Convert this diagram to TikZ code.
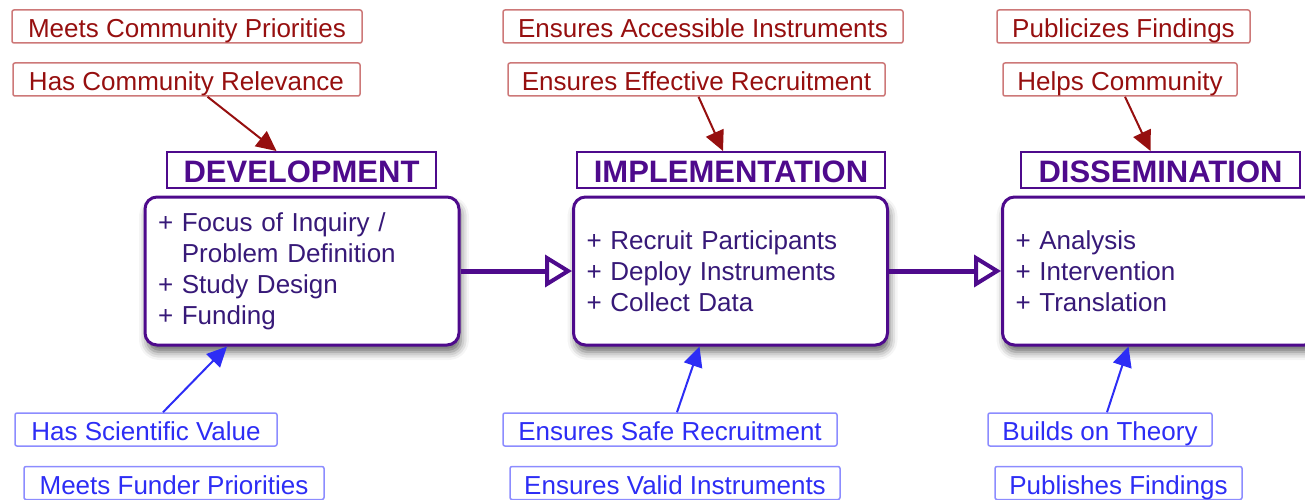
\documentclass[tikz,border=0pt]{standalone}
\usepackage{fontspec}
\setmainfont{Liberation Sans}
\usetikzlibrary{arrows.meta,shadows,shadows.blur}
\definecolor{commred}{RGB}{150,15,15}
\definecolor{commredline}{RGB}{205,120,120}
\definecolor{sciblue}{RGB}{45,45,245}
\definecolor{sciblueline}{RGB}{140,140,255}
\definecolor{phasepurple}{RGB}{78,10,140}
\definecolor{phasetext}{RGB}{55,25,120}

\tikzset{
  commbox/.style={draw=commredline, line width=1.5pt, rounded corners=2pt, text=commred,
    font=\fontsize{26}{30}\selectfont, minimum height=33pt, inner sep=0pt,
    text height=22pt, text depth=0pt},
  scibox/.style={draw=sciblueline, line width=1.5pt, rounded corners=2pt, text=sciblue,
    font=\fontsize{26}{30}\selectfont, minimum height=33pt, inner sep=0pt,
    text height=22pt, text depth=0pt},
  phasetitle/.style={draw=phasepurple, line width=2pt, text=phasepurple,
    font=\fontsize{31}{36}\selectfont\bfseries, minimum height=36pt, inner sep=0pt,
    text height=24pt, text depth=0pt},
  phasebox/.style={draw=phasepurple, line width=3pt, rounded corners=12pt, fill=white,
    blur shadow={shadow xshift=2pt, shadow yshift=-7pt, shadow blur radius=8pt, shadow opacity=60},
    text=phasetext, font=\fontsize{26}{31}\selectfont, align=left,
    text width=288pt, inner xsep=13pt, minimum height=148pt},
  flow/.style={phasepurple, line width=5pt, -{Triangle[open, length=27pt, width=32pt, line width=4pt]}},
  commarrow/.style={commred, line width=2pt, -{Triangle[length=20pt, width=19pt]}},
  sciarrow/.style={sciblue, line width=2pt, -{Triangle[length=20pt, width=19pt]}}
}

\begin{document}
\begin{tikzpicture}[x=1pt, y=-1pt]
  \useasboundingbox (0,0) rectangle (1305,500);
  \clip (0,0) rectangle (1305,500);

  % community side (top)
  \node [commbox, minimum width=350] (mcp) at (187,26.5) {Meets Community Priorities};
  \node [commbox, minimum width=347] (hcr) at (186.5,79.5) {Has Community Relevance};
  \node [commbox, minimum width=400] (eai) at (703,26.5) {Ensures Accessible Instruments};
  \node [commbox, minimum width=377] (eer) at (696.5,79.5) {Ensures Effective Recruitment};
  \node [commbox, minimum width=253] (pbf) at (1123.5,26.5) {Publicizes Findings};
  \node [commbox, minimum width=234] (hc) at (1120,79.5) {Helps Community};

  % phases
  \node [phasetitle, minimum width=269] (devt) at (301.5,170) {DEVELOPMENT};
  \node [phasetitle, minimum width=308] (implt) at (731,170) {IMPLEMENTATION};
  \node [phasetitle, minimum width=279] (disst) at (1160.5,170) {DISSEMINATION};

  \node [phasebox] (dev) at (302,271)
    {+ Focus of Inquiry /\\\hphantom{+ }Problem Definition\\+ Study Design\\+ Funding};
  \node [phasebox] (impl) at (730.5,271)
    {+ Recruit Participants\\+ Deploy Instruments\\+ Collect Data};
  \node [phasebox] (diss) at (1159.5,271)
    {+ Analysis\\+ Intervention\\+ Translation};

  \draw [flow] (dev.east) -- (impl.west);
  \draw [flow] (impl.east) -- (diss.west);

  % science side (bottom)
  \node [scibox, minimum width=262] (hsv) at (146,429.5) {Has Scientific Value};
  \node [scibox, minimum width=300] (mfp) at (174,483) {Meets Funder Priorities};
  \node [scibox, minimum width=334] (esr) at (670,429.5) {Ensures Safe Recruitment};
  \node [scibox, minimum width=330] (evi) at (675,483) {Ensures Valid Instruments};
  \node [scibox, minimum width=224] (bot) at (1100,429.5) {Builds on Theory};
  \node [scibox, minimum width=247] (puf) at (1118.5,483) {Publishes Findings};

  \draw [commarrow] ([xshift=21]hcr.south) -- ([xshift=-25]devt.north);
  \draw [commarrow] ([xshift=2]eer.south) -- ([xshift=-8]implt.north);
  \draw [commarrow] ([xshift=5]hc.south) -- ([xshift=-10]disst.north);

  \draw [sciarrow] ([xshift=17]hsv.north) -- ([xshift=-75]dev.south);
  \draw [sciarrow] ([xshift=7]esr.north) -- ([xshift=-31]impl.south);
  \draw [sciarrow] ([xshift=7]bot.north) -- ([xshift=-31]diss.south);
\end{tikzpicture}
\end{document}
